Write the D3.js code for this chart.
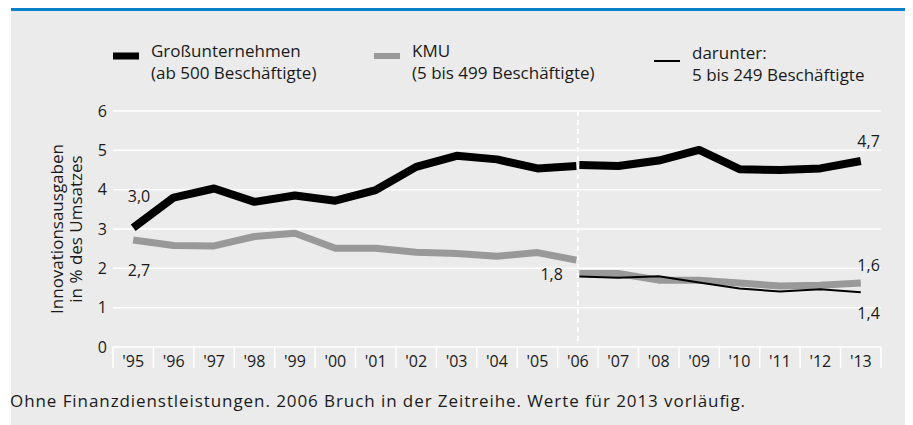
<!DOCTYPE html>
<html><head><meta charset="utf-8">
<script src="https://cdn.jsdelivr.net/npm/d3@7/dist/d3.min.js"></script>
<style>
body{margin:0;background:#fff}
text{font-family:"Open Sans",sans-serif;fill:#1a1a1a}
</style>
</head><body>
<svg id="c" width="913" height="425"></svg>
<script>
// ---- data ----
const years = ["'95","'96","'97","'98","'99","'00","'01","'02","'03","'04","'05","'06","'07","'08","'09","'10","'11","'12","'13"];
const yearsOld = years.slice(0, 12);   // 1995-2006 (old method)
const yearsNew = years.slice(11);      // 2006-2013 (new method)
const grossOld = [3.03,3.80,4.03,3.69,3.85,3.72,3.99,4.58,4.86,4.77,4.54,4.60];
const grossNew = [4.63,4.60,4.74,5.01,4.52,4.50,4.54,4.73];
const kmuOld   = [2.72,2.58,2.57,2.81,2.89,2.51,2.51,2.41,2.38,2.31,2.40,2.21];
const kmuNew   = [1.87,1.87,1.70,1.70,1.63,1.55,1.57,1.63];
const smallNew = [1.79,1.76,1.80,1.64,1.49,1.41,1.47,1.39];
const yTicks = [0,1,2,3,4,5,6];
const legendItems = [
  {lines:["Großunternehmen","(ab 500 Beschäftigte)"], color:"#000", w:7},
  {lines:["KMU","(5 bis 499 Beschäftigte)"], color:"#999", w:6},
  {lines:["darunter:","5 bis 249 Beschäftigte"], color:"#000", w:2}
];
const yTitle = ["Innovationsausgaben","in % des Umsatzes"];
const footnote = "Ohne Finanzdienstleistungen. 2006 Bruch in der Zeitreihe. Werte für 2013 vorläufig.";
const breakYear = "'06";

// ---- layout ----
const svg = d3.select("#c");
svg.append("rect").attr("x",11).attr("y",11).attr("width",894).attr("height",414).attr("fill","#ebebeb");
svg.append("rect").attr("x",11).attr("y",8).attr("width",894).attr("height",3).attr("fill","#0a80c8");

const x = d3.scaleBand().domain(years).range([113,881]);
const cx = d => x(d) + x.bandwidth()/2;
const y = d3.scaleLinear().domain([0,6]).range([347,111]);

// gridlines
svg.append("g").selectAll("line").data(yTicks).join("line")
  .attr("x1",113).attr("x2",881).attr("y1",d=>y(d)).attr("y2",d=>y(d))
  .attr("stroke","#fff").attr("stroke-width",1.5);
// y tick labels
svg.append("g").selectAll("text").data(yTicks).join("text")
  .attr("x",107).attr("y",d=>y(d)).attr("dy","0.36em").attr("text-anchor","end")
  .attr("font-size",16).text(d=>d);
// x separators
const seps = years.map(d=>x(d)).concat([x(years[years.length-1])+x.bandwidth()]);
svg.append("g").selectAll("line").data(seps).join("line")
  .attr("x1",d=>d).attr("x2",d=>d).attr("y1",y(0)).attr("y2",368)
  .attr("stroke","#fff").attr("stroke-width",1.5);
svg.append("g").selectAll("text").data(years).join("text")
  .attr("x",d=>cx(d)).attr("y",367).attr("text-anchor","middle")
  .attr("font-size",16).text(d=>d);

// y title
const yt = svg.append("text").attr("transform",`translate(58,${y(3)}) rotate(-90)`)
  .attr("text-anchor","middle").attr("font-size",17);
yTitle.forEach((t,i)=>yt.append("tspan").attr("x",0).attr("dy",i?19:0).attr("dominant-baseline","middle").text(t));

// break line
svg.append("line").attr("x1",cx(breakYear)).attr("x2",cx(breakYear)).attr("y1",y(6)).attr("y2",y(0)-4)
  .attr("stroke","#fff").attr("stroke-width",2).attr("stroke-dasharray","5,4");

// lines
const gap = 1.5;
function drawLine(cats, vals, color, w, off){
  const line = d3.line().x((d,i)=>cx(cats[i]) + (i===off.idx ? off.dx : 0)).y(d=>y(d));
  svg.append("path").datum(vals).attr("d",line).attr("fill","none")
    .attr("stroke",color).attr("stroke-width",w).attr("stroke-linejoin","round").attr("stroke-linecap","butt");
}
drawLine(yearsOld, kmuOld, "#999", 7, {idx:11, dx:-gap});
drawLine(yearsNew, kmuNew, "#999", 7, {idx:0, dx:gap});
drawLine(yearsNew, smallNew, "#000", 2, {idx:0, dx:gap});
drawLine(yearsOld, grossOld, "#000", 8, {idx:11, dx:-gap});
drawLine(yearsNew, grossNew, "#000", 8, {idx:0, dx:gap});

// value labels
const lab = (txt, xx, yy, anchor) => svg.append("text").attr("x",xx).attr("y",yy).attr("dy","0.36em")
  .attr("text-anchor",anchor).attr("font-size",16).text(txt);
const fmt = v => d3.format(".1f")(v).replace(".",",");
lab(fmt(grossOld[0]), cx(years[0])+17, y(grossOld[0])-32, "end");
lab(fmt(kmuOld[0]), cx(years[0])+17, y(kmuOld[0])+30, "end");
lab(fmt(smallNew[0]), cx(breakYear)-15, y(smallNew[0])-2, "end");
const last = years[years.length-1];
lab(fmt(grossNew[grossNew.length-1]), cx(last)+19, y(grossNew[grossNew.length-1])-20, "end");
lab(fmt(kmuNew[kmuNew.length-1]), cx(last)+19, y(kmuNew[kmuNew.length-1])-18, "end");
lab(fmt(smallNew[smallNew.length-1]), cx(last)+19, y(smallNew[smallNew.length-1])+21, "end");

// legend
const legX = [113, 374, 654];
const legDy = [0, 0, 2];
legendItems.forEach((it,i)=>{
  const g = svg.append("g").attr("transform",`translate(${legX[i]},${legDy[i]})`);
  g.append("line").attr("x1",0).attr("x2",26).attr("y1",it.w>3?56:59).attr("y2",it.w>3?56:59)
    .attr("stroke",it.color).attr("stroke-width",it.w);
  it.lines.forEach((t,j)=>g.append("text").attr("x",38).attr("y",51+j*22).attr("dy","0.36em")
    .attr("font-size",17).text(t));
});

// footnote
svg.append("text").attr("x",10).attr("y",401).attr("dy","0.36em").attr("font-size",17)
  .attr("textLength",735).attr("lengthAdjust","spacing").text(footnote);
</script>
</body></html>
